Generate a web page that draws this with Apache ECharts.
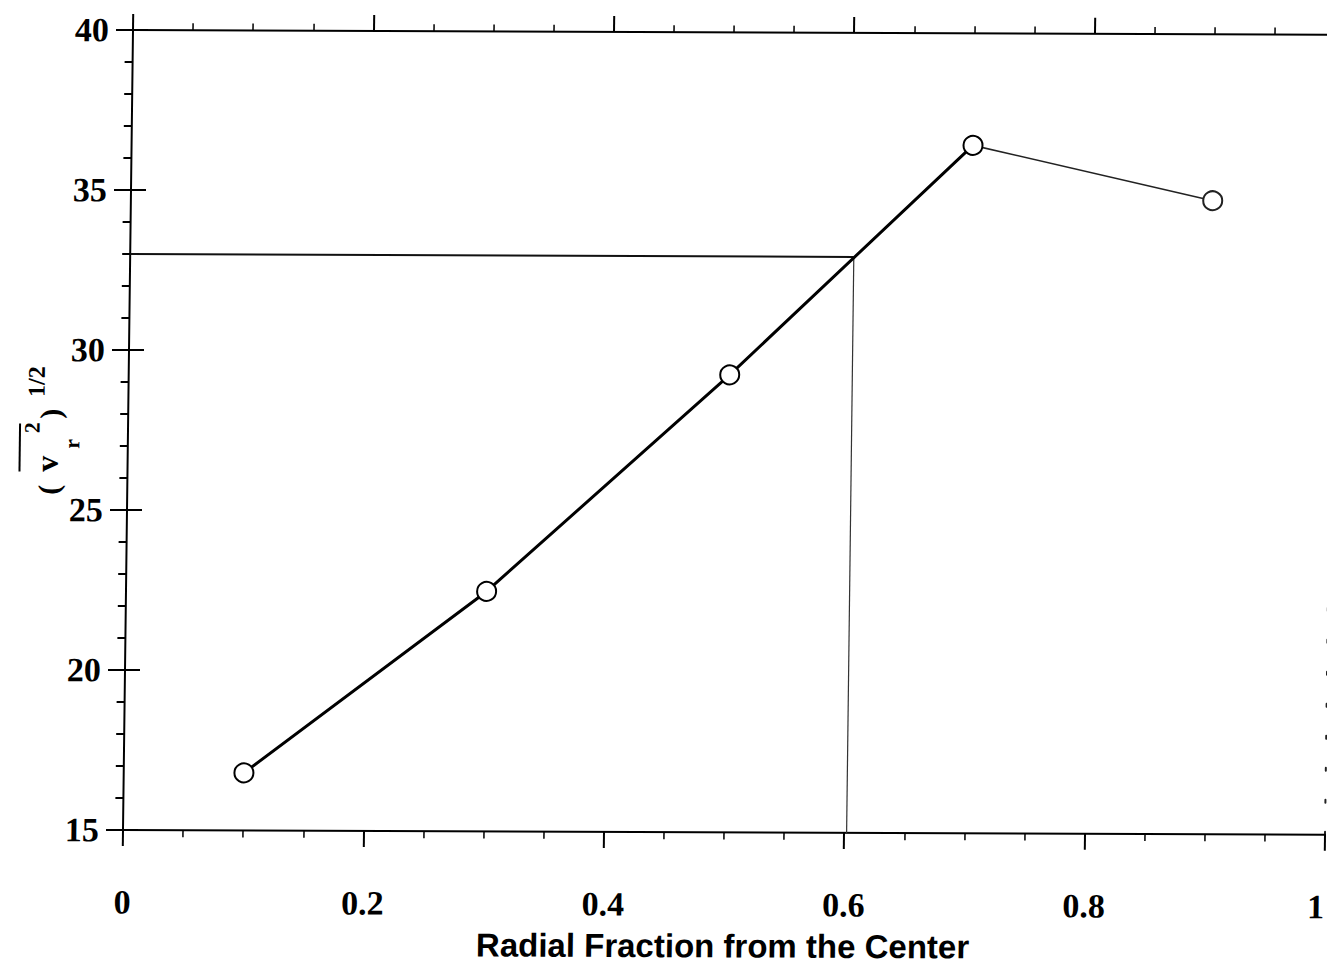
<!DOCTYPE html>
<html>
<head>
<meta charset="utf-8">
<title>Radial velocity dispersion</title>
<script src="https://cdn.jsdelivr.net/npm/echarts@6/dist/echarts.min.js"></script>
<style>
  html, body { margin: 0; padding: 0; background: #fff; overflow: hidden; }
  #chart {
    width: 1327px;
    height: 968px;
    /* the printed figure sits slightly askew on the page */
    transform: matrix(1, 0.004, -0.0125, 1, 0, 0);
    transform-origin: 123px 830px;
  }
</style>
</head>
<body>
<div id="chart"></div>
<script>
// Measured points: radial fraction from the center vs. rms radial velocity
const radialFraction = [0.1, 0.3, 0.5, 0.7, 0.9];
const rmsVelocity = [16.8, 22.5, 29.3, 36.5, 34.8];

// Read-off guide: velocity 33 traced across to the curve and down to the axis
const guideFraction = [0, 0.602, 0.602];
const guideVelocity = [33, 33, 15];

// Tick labels
const xTickLabels = ['0', '0.2', '0.4', '0.6', '0.8', '1'];
const yTickLabels = ['15', '20', '25', '30', '35', '40'];

const points = radialFraction.map((x, i) => [x, rmsVelocity[i]]);
const innerPoints = points.slice(0, 4);
const outerPoints = points.slice(3).map((p, i) =>
  i === 0 ? { value: p, symbol: 'none' } : { value: p });
const guidePoints = guideFraction.map((x, i) => [x, guideVelocity[i]]);

const ink = '#000';
const serif = 'Liberation Serif, Times New Roman, serif';

const tickLabelStyle = {
  fontFamily: serif,
  fontWeight: 'bold',
  fontSize: 34,
  color: ink
};

function xAxisBase(position) {
  return {
    type: 'value',
    position: position,
    min: 0,
    max: 1,
    interval: 0.2,
    axisLine: { lineStyle: { color: ink, width: 2 } },
    axisTick: { show: true, inside: false, length: 16, lineStyle: { color: ink, width: 2 } },
    minorTick: { show: true, splitNumber: 4, length: 7, lineStyle: { color: ink, width: 1.5 } },
    splitLine: { show: false },
    minorSplitLine: { show: false }
  };
}

const bottomAxis = Object.assign(xAxisBase('bottom'), {
  axisLabel: Object.assign({
    margin: 55,
    alignMaxLabel: 'right',
    formatter: (v, i) => xTickLabels[i]
  }, tickLabelStyle),
  name: 'Radial Fraction from the Center',
  nameLocation: 'middle',
  nameGap: 97,
  nameTextStyle: {
    fontFamily: 'Liberation Sans, Arial, sans-serif',
    fontWeight: 'bold',
    fontSize: 33,
    color: ink
  }
});

const topAxis = Object.assign(xAxisBase('top'), {
  axisLabel: { show: false }
});

function textPiece(text, x, y, size) {
  return {
    type: 'text',
    style: {
      text: text, x: x, y: y,
      font: 'bold ' + size + 'px ' + serif,
      fill: ink,
      textAlign: 'center', textVerticalAlign: 'middle',
      align: 'center', verticalAlign: 'middle'
    }
  };
}

const option = {
  animation: false,
  backgroundColor: '#fff',
  grid: {
    left: 123, top: 30, width: 1202, height: 800,
    containLabel: false,
    outerBoundsMode: 'none'
  },
  xAxis: [bottomAxis, topAxis],
  yAxis: [
    {
      type: 'value',
      position: 'left',
      min: 15,
      max: 40,
      interval: 5,
      axisLine: { lineStyle: { color: ink, width: 2 } },
      axisTick: { show: true, inside: false, length: 17, lineStyle: { color: ink, width: 2 } },
      minorTick: { show: true, splitNumber: 5, length: 8, lineStyle: { color: ink, width: 2 } },
      splitLine: { show: false },
      minorSplitLine: { show: false },
      axisLabel: Object.assign({ margin: 24, formatter: (v, i) => yTickLabels[i] }, tickLabelStyle)
    },
    {
      // inner half of the crossing major ticks on the left axis
      type: 'value',
      position: 'left',
      min: 15,
      max: 40,
      interval: 5,
      axisLine: { show: false },
      axisTick: { show: true, inside: true, length: 15, lineStyle: { color: ink, width: 2 } },
      axisLabel: { show: false },
      splitLine: { show: false }
    },
    {
      type: 'value',
      position: 'right',
      min: 15,
      max: 40,
      interval: 5,
      axisLine: { lineStyle: { color: '#222', width: 2, type: [3, 29] } },
      axisTick: { show: false },
      axisLabel: { show: false },
      splitLine: { show: false }
    }
  ],
  series: [
    {
      name: 'Guide horizontal',
      type: 'line',
      data: guidePoints.slice(0, 2),
      symbol: 'none',
      lineStyle: { color: '#111', width: 2 },
      z: 1,
      silent: true
    },
    {
      name: 'Guide vertical',
      type: 'line',
      data: guidePoints.slice(1),
      symbol: 'none',
      lineStyle: { color: '#333', width: 1.2 },
      z: 1,
      silent: true
    },
    {
      name: 'Outer',
      type: 'line',
      data: outerPoints,
      symbol: 'emptyCircle',
      symbolSize: 19,
      lineStyle: { color: '#222', width: 1.6 },
      itemStyle: { color: '#222', borderWidth: 1.8 },
      z: 2
    },
    {
      name: 'Inner',
      type: 'line',
      data: innerPoints,
      symbol: 'emptyCircle',
      symbolSize: 19,
      lineStyle: { color: ink, width: 3 },
      itemStyle: { color: ink, borderWidth: 2.8 },
      z: 3
    }
  ],
  graphic: [
    {
      // y-axis title: (v_r^2 with overline)^(1/2), reading bottom to top
      type: 'group',
      x: 58,
      y: 500,
      rotation: Math.PI / 2,
      silent: true,
      children: [
        textPiece('(', 10, -14, 30),
        textPiece('v', 36, -16, 32),
        textPiece('r', 56, 9, 22),
        textPiece('2', 72, -31, 22),
        textPiece(')', 86, -13, 30),
        textPiece('1/2', 118, -27, 24),
        { type: 'line', shape: { x1: 28, y1: -43, x2: 76, y2: -43 }, style: { stroke: ink, lineWidth: 2 } }
      ]
    }
  ]
};

const chart = echarts.init(document.getElementById('chart'), null, { renderer: 'svg' });
chart.setOption(option);
</script>
</body>
</html>
